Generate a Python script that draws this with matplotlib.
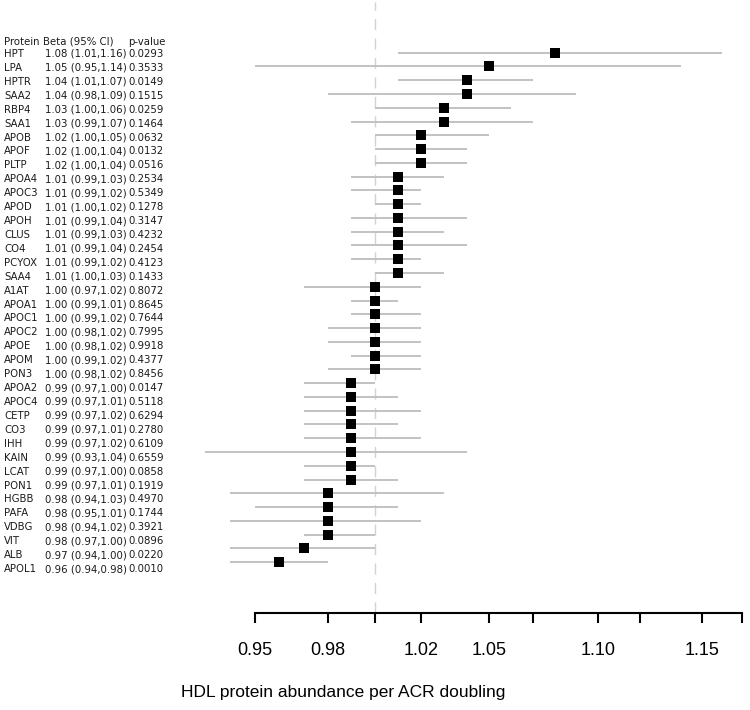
import numpy as np
import matplotlib
matplotlib.use("Agg")
import matplotlib.pyplot as plt
from matplotlib.ticker import NullLocator

proteins = ["HPT", "LPA", "HPTR", "SAA2", "RBP4", "SAA1", "APOB", "APOF", "PLTP",
            "APOA4", "APOC3", "APOD", "APOH", "CLUS", "CO4", "PCYOX", "SAA4",
            "A1AT", "APOA1", "APOC1", "APOC2", "APOE", "APOM", "PON3",
            "APOA2", "APOC4", "CETP", "CO3", "IHH", "KAIN", "LCAT", "PON1",
            "HGBB", "PAFA", "VDBG", "VIT", "ALB", "APOL1"]
beta = [1.08, 1.05, 1.04, 1.04, 1.03, 1.03, 1.02, 1.02, 1.02,
        1.01, 1.01, 1.01, 1.01, 1.01, 1.01, 1.01, 1.01,
        1.00, 1.00, 1.00, 1.00, 1.00, 1.00, 1.00,
        0.99, 0.99, 0.99, 0.99, 0.99, 0.99, 0.99, 0.99,
        0.98, 0.98, 0.98, 0.98, 0.97, 0.96]
ci_lo = [1.01, 0.95, 1.01, 0.98, 1.00, 0.99, 1.00, 1.00, 1.00,
         0.99, 0.99, 1.00, 0.99, 0.99, 0.99, 0.99, 1.00,
         0.97, 0.99, 0.99, 0.98, 0.98, 0.99, 0.98,
         0.97, 0.97, 0.97, 0.97, 0.97, 0.93, 0.97, 0.97,
         0.94, 0.95, 0.94, 0.97, 0.94, 0.94]
ci_hi = [1.16, 1.14, 1.07, 1.09, 1.06, 1.07, 1.05, 1.04, 1.04,
         1.03, 1.02, 1.02, 1.04, 1.03, 1.04, 1.02, 1.03,
         1.02, 1.01, 1.02, 1.02, 1.02, 1.02, 1.02,
         1.00, 1.01, 1.02, 1.01, 1.02, 1.04, 1.00, 1.01,
         1.03, 1.01, 1.02, 1.00, 1.00, 0.98]
pvals = ["0.0293", "0.3533", "0.0149", "0.1515", "0.0259", "0.1464", "0.0632", "0.0132", "0.0516",
         "0.2534", "0.5349", "0.1278", "0.3147", "0.4232", "0.2454", "0.4123", "0.1433",
         "0.8072", "0.8645", "0.7644", "0.7995", "0.9918", "0.4377", "0.8456",
         "0.0147", "0.5118", "0.6294", "0.2780", "0.6109", "0.6559", "0.0858", "0.1919",
         "0.4970", "0.1744", "0.3921", "0.0896", "0.0220", "0.0010"]

tick_vals = [0.95, 0.98, 1.00, 1.02, 1.05, 1.07, 1.10, 1.12, 1.15, 1.17]
tick_labels = ["0.95", "0.98", "", "1.02", "1.05", "", "1.10", "", "1.15", ""]

W, H = 750, 710
fig = plt.figure(figsize=(W / 100, H / 100), dpi=100)


def fx(px):
    return px / W


def fy(py):
    return 1 - py / H


# forest panel, laid out in pixels
left, right, top, bottom = 255, 742, 2, 613
row0, step = 52.7, 13.77
ax = fig.add_axes([fx(left), fy(bottom), fx(right) - fx(left), fy(top) - fy(bottom)])
ax.set_xscale("log")
ax.set_xlim(0.95, 1.17)
ax.set_ylim((bottom - row0) / step, (top - row0) / step)

rows = np.arange(len(proteins))
ax.axvline(1.0, color="#d2d2d2", lw=1, dashes=(8, 6), zorder=1)
ax.hlines(rows, ci_lo, ci_hi, color="#c2c2c2", lw=1.4, zorder=2, clip_on=False)
ax.plot(beta, rows, "s", color="black", ms=7.8, mew=0, zorder=3, clip_on=False)

for s in ["top", "right", "left"]:
    ax.spines[s].set_visible(False)
ax.spines["bottom"].set_linewidth(1.5)
ax.set_yticks([])
ax.set_xticks(tick_vals)
ax.set_xticklabels(tick_labels, family="Liberation Sans", fontsize=13)
ax.xaxis.set_minor_locator(NullLocator())
ax.tick_params(axis="x", direction="out", length=7, width=1.5, pad=14)

fig.text(fx(343), fy(693), "HDL protein abundance per ACR doubling",
         ha="center", va="center", fontsize=12.5, family="Liberation Sans")

# table on the left
tfont = dict(fontsize=7.3, family="DejaVu Sans", color="#1a1a1a", va="center")
fig.text(fx(4), fy(41.7), "Protein", **tfont)
fig.text(fx(43), fy(41.7), "Beta (95% CI)", **tfont)
fig.text(fx(128), fy(41.7), "p-value", **tfont)
for i, name in enumerate(proteins):
    y = fy(54 + i * 13.92)
    fig.text(fx(4), y, name, **tfont)
    fig.text(fx(45), y, f"{beta[i]:.2f} ({ci_lo[i]:.2f},{ci_hi[i]:.2f})", **tfont)
    fig.text(fx(128), y, pvals[i], **tfont)

fig.savefig("out.png", dpi=100)
